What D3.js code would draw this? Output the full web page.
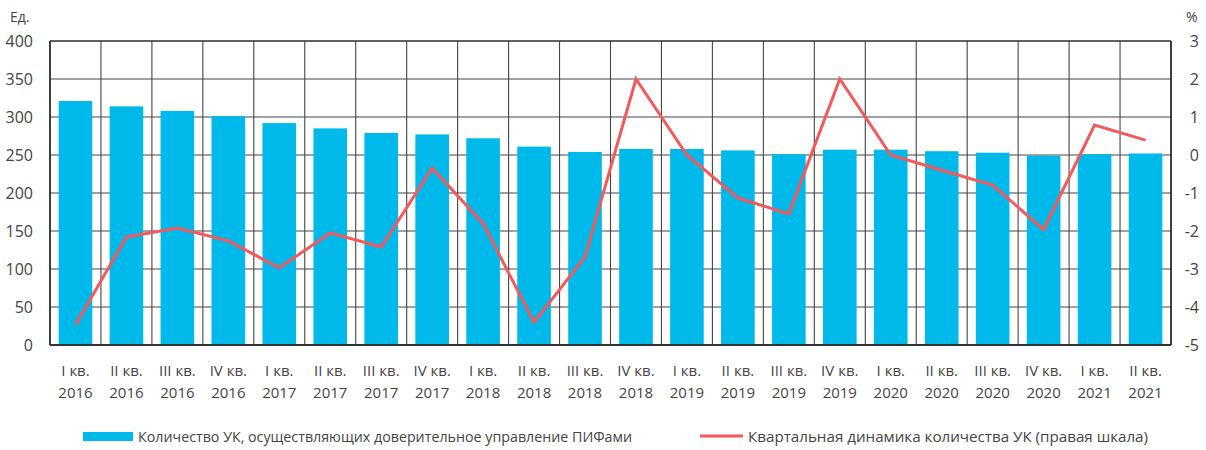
<!DOCTYPE html>
<html><head><meta charset="utf-8">
<script src="https://cdn.jsdelivr.net/npm/d3@7"></script>
<style>body{margin:0;background:#fff;} svg{display:block;font-family:"Open Sans",sans-serif;}</style>
</head><body><svg id="c" width="1206" height="450"></svg>
<script>
const quarters = ["I кв.","II кв.","III кв.","IV кв.","I кв.","II кв.","III кв.","IV кв.","I кв.","II кв.","III кв.","IV кв.","I кв.","II кв.","III кв.","IV кв.","I кв.","II кв.","III кв.","IV кв.","I кв.","II кв."];
const years = ["2016","2016","2016","2016","2017","2017","2017","2017","2018","2018","2018","2018","2019","2019","2019","2019","2020","2020","2020","2020","2021","2021"];
const countUK = [321,314,308,301,292,285,279,277,272,261,254,258,258,256,251,257,257,255,253,249,251,252];
const dynamics = [-4.47,-2.16,-1.92,-2.26,-2.97,-2.05,-2.42,-0.35,-1.8,-4.4,-2.68,2.0,0.0,-1.13,-1.55,2.0,0.0,-0.4,-0.79,-1.96,0.79,0.39];
const leftTicks = [0,50,100,150,200,250,300,350,400];
const rightTicks = [-5,-4,-3,-2,-1,0,1,2,3];
const legendBar = "Количество УК, осуществляющих доверительное управление ПИФами";
const legendLine = "Квартальная динамика количества УК (правая шкала)";

const svg = d3.select("#c");
const L = 50, R = 1171, T = 41, B = 345;
const idx = quarters.map((d,i)=>i);
const x = d3.scaleBand().domain(idx).range([L,R]).paddingInner(0).paddingOuter(0);
const yL = d3.scaleLinear().domain([0,400]).range([B,T]);
const yR = d3.scaleLinear().domain([-5,3]).range([B,T]);
const textColor = "#444";
const gridColor = "#444";

// gridlines
const g = svg.append("g");
g.selectAll("line.h").data(leftTicks).join("line")
  .attr("x1",L).attr("x2",R).attr("y1",d=>yL(d)).attr("y2",d=>yL(d))
  .attr("stroke",gridColor).attr("stroke-width",1.1);
const vb = idx.map(i=>x(i)).concat([R]);
g.selectAll("line.v").data(vb).join("line")
  .attr("x1",d=>d).attr("x2",d=>d).attr("y1",T).attr("y2",B)
  .attr("stroke",gridColor).attr("stroke-width",1.1);

// bars
const bw = x.bandwidth()*0.66;
svg.append("g").selectAll("rect").data(countUK).join("rect")
  .attr("x",(d,i)=>x(i)+(x.bandwidth()-bw)/2)
  .attr("width",bw)
  .attr("y",d=>yL(d)).attr("height",d=>B-yL(d))
  .attr("fill","#00b9eb");

// frame
svg.append("line").attr("x1",L).attr("x2",L).attr("y1",T).attr("y2",B).attr("stroke","#222").attr("stroke-width",1.5);
svg.append("line").attr("x1",R).attr("x2",R).attr("y1",T).attr("y2",B).attr("stroke","#222").attr("stroke-width",1.5);
svg.append("line").attr("x1",L).attr("x2",R).attr("y1",T).attr("y2",T).attr("stroke","#222").attr("stroke-width",1.2);
svg.append("line").attr("x1",L).attr("x2",R).attr("y1",B).attr("y2",B).attr("stroke","#333").attr("stroke-width",2);

// line
const line = d3.line().x((d,i)=>x(i)+x.bandwidth()/2).y(d=>yR(d));
svg.append("path").datum(dynamics).attr("d",line)
  .attr("fill","none").attr("stroke","#f4585a").attr("stroke-width",3).attr("stroke-linejoin","miter");

// axes labels
svg.append("g").selectAll("text").data(leftTicks).join("text")
  .attr("x",33).attr("y",d=>yL(d)).attr("dy","0.36em").attr("text-anchor","end")
  .attr("font-size",16).attr("fill",textColor).text(d=>d);
svg.append("g").selectAll("text").data(rightTicks).join("text")
  .attr("x",1199).attr("y",d=>yR(d)).attr("dy","0.36em").attr("text-anchor","end")
  .attr("font-size",16).attr("fill",textColor).text(d=>d);
svg.append("text").attr("x",10).attr("y",22).attr("font-size",14).attr("fill",textColor).text("Ед.");
svg.append("text").attr("x",1186).attr("y",22).attr("font-size",14).attr("fill",textColor).text("%");

// x labels
const xl = svg.append("g").selectAll("g").data(idx).join("g")
  .attr("transform",i=>`translate(${x(i)+x.bandwidth()/2},0)`);
xl.append("text").attr("y",376).attr("text-anchor","middle").attr("font-size",15).attr("fill",textColor).text(i=>quarters[i]);
xl.append("text").attr("y",398).attr("text-anchor","middle").attr("font-size",15).attr("fill",textColor).text(i=>years[i]);

// legend
svg.append("rect").attr("x",83).attr("y",432).attr("width",50).attr("height",9).attr("fill","#00b9eb");
svg.append("text").attr("x",138).attr("y",442).attr("font-size",14).attr("fill",textColor)
  .attr("textLength",494).attr("lengthAdjust","spacingAndGlyphs").text(legendBar);
svg.append("line").attr("x1",700).attr("x2",743).attr("y1",436).attr("y2",436).attr("stroke","#f4585a").attr("stroke-width",3);
svg.append("text").attr("x",748).attr("y",442).attr("font-size",14.5).attr("fill",textColor)
  .attr("textLength",400).attr("lengthAdjust","spacingAndGlyphs").text(legendLine);
</script></body></html>
